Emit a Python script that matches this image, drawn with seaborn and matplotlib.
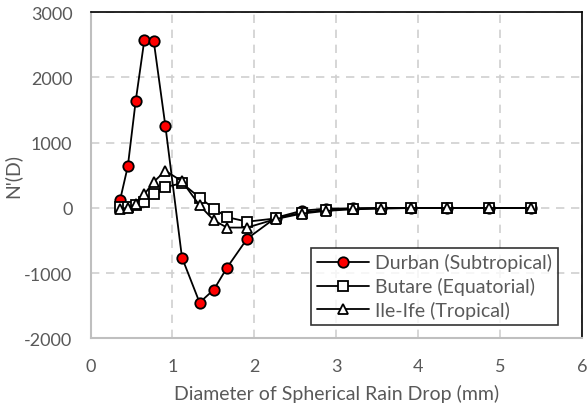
import matplotlib
matplotlib.use("Agg")
import matplotlib.pyplot as plt
import seaborn as sns
import pandas as pd

# drop diameter classes (mm)
diameter = [0.359, 0.455, 0.551, 0.656, 0.771, 0.913, 1.116, 1.331, 1.506, 1.665,
            1.912, 2.259, 2.584, 2.869, 3.198, 3.544, 3.916, 4.350, 4.859, 5.373]

durban = [115, 640, 1640, 2570, 2560, 1260, -760, -1450, -1250, -915,
          -470, -150, -40, -12, -5, 0, 0, 0, 0, 0]
butare = [10, 20, 50, 90, 210, 320, 380, 160, -10, -140,
          -210, -160, -70, -30, -10, 0, 0, 0, 0, 0]
ileife = [-10, 0, 60, 210, 400, 570, 410, 40, -190, -300,
          -300, -170, -85, -45, -20, -10, 0, 0, 0, 0]

labels = ["Durban (Subtropical)", "Butare (Equatorial)", "Ile-Ife (Tropical)"]

df = pd.DataFrame({"D": diameter, labels[0]: durban, labels[1]: butare, labels[2]: ileife})

sns.set_style("white")
plt.rcParams["font.family"] = ["Lato", "DejaVu Sans"]
plt.rcParams["axes.unicode_minus"] = False

fig = plt.figure(figsize=(5.88, 4.14), dpi=100)
ax = fig.add_axes([0.154, 0.180, 0.836, 0.788])

styles = [("o", "red"), ("s", "white"), ("^", "white")]
for lab, (m, fc) in zip(labels, styles):
    sns.lineplot(data=df, x="D", y=lab, ax=ax, color="black", lw=1.3,
                 marker=m, markersize=7.5, markerfacecolor=fc,
                 markeredgecolor="black", markeredgewidth=1.3, label=lab)

ax.set_xlim(0, 6)
ax.set_ylim(-2000, 3000)
ax.set_xticks(range(0, 7))
ax.set_yticks(range(-2000, 3001, 1000))
ax.grid(True, color="#d0d0d0", linestyle=(0, (5, 4)), lw=1.2)
ax.set_axisbelow(True)

for s in ["left", "bottom"]:
    ax.spines[s].set_color("#bfbfbf")
    ax.spines[s].set_linewidth(1.5)
for s in ["top", "right"]:
    ax.spines[s].set_color("black")
    ax.spines[s].set_linewidth(1.2)

ax.tick_params(axis="y", length=4, color="#bfbfbf", pad=9, labelsize=13, labelcolor="#595959")
ax.tick_params(axis="x", length=0, pad=14, labelsize=13, labelcolor="#595959")
ax.set_xlabel("Diameter of Spherical Rain Drop (mm)", fontsize=14, color="#595959", labelpad=7)
ax.set_ylabel("N'(D)", fontsize=14, color="#595959", labelpad=2)

leg = ax.legend(loc="lower right", bbox_to_anchor=(0.951, 0.041), borderaxespad=0,
                fontsize=14, frameon=True, fancybox=False, handlelength=2.7,
                labelspacing=0.3, borderpad=0.3, handletextpad=0.3)
leg.get_frame().set_edgecolor("black")
leg.get_frame().set_linewidth(1.2)
for t in leg.get_texts():
    t.set_color("#595959")

fig.savefig("out.png", dpi=100)
